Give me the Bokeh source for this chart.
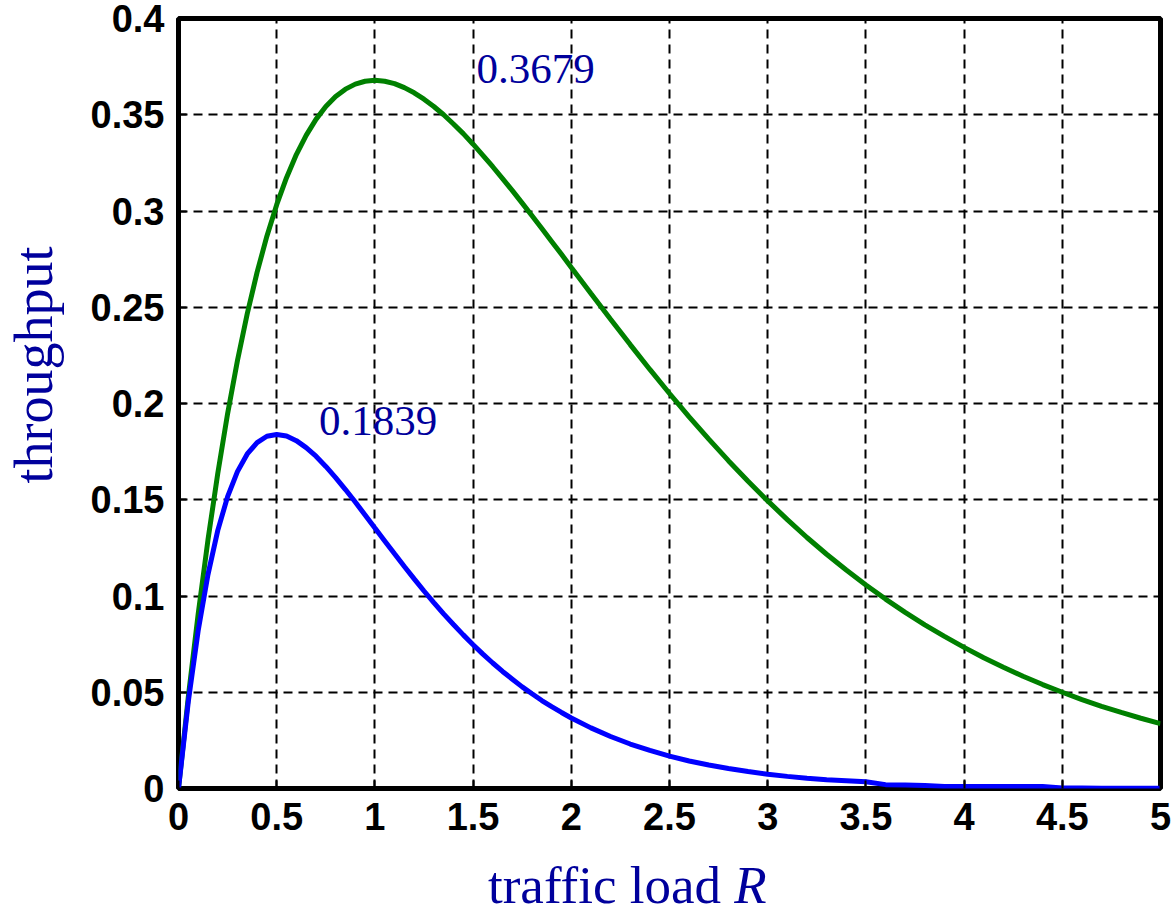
from bokeh.plotting import figure
from bokeh.models import Range1d, Label, FixedTicker, Title, Div
from bokeh.layouts import column
from bokeh.embed import file_html
from bokeh.resources import INLINE

# traffic load R (sample positions)
load = [round(0.05 * i, 2) for i in range(41)] + [round(2 + 0.1 * i, 1) for i in range(1, 31)]

# slotted (green) throughput
slotted = [0.0, 0.0476, 0.0905, 0.1291, 0.1637, 0.1947, 0.2222, 0.2466, 0.2681, 0.2869,
           0.3033, 0.3173, 0.3293, 0.3393, 0.3476, 0.3543, 0.3595, 0.3633, 0.3659, 0.3674,
           0.3679, 0.3674, 0.3662, 0.3641, 0.3614, 0.3581, 0.3543, 0.3500, 0.3452, 0.3402,
           0.3347, 0.3289, 0.3230, 0.3168, 0.3106, 0.3041, 0.2975, 0.2909, 0.2842, 0.2775,
           0.2707,
           0.2572, 0.2438, 0.2306, 0.2177, 0.2052, 0.1931, 0.1815, 0.1703, 0.1596,
           0.1494, 0.1397, 0.1304, 0.1217, 0.1135, 0.1057, 0.0984, 0.0915, 0.0850, 0.0790,
           0.0733, 0.0679, 0.0630, 0.0583, 0.0540, 0.0500, 0.0462, 0.0427, 0.0395, 0.0365,
           0.0337]

# pure (blue) throughput
pure = [0.0, 0.0452, 0.0819, 0.1111, 0.1341, 0.1516, 0.1646, 0.1738, 0.1797, 0.1830,
        0.1839, 0.1831, 0.1807, 0.1771, 0.1726, 0.1673, 0.1615, 0.1553, 0.1488, 0.1421,
        0.1353, 0.1286, 0.1219, 0.1153, 0.1089, 0.1026, 0.0966, 0.0907, 0.0852, 0.0798,
        0.0747, 0.0698, 0.0652, 0.0608, 0.0568, 0.0528, 0.0492, 0.0457, 0.0425, 0.0395,
        0.0366,
        0.0315, 0.0270, 0.0231, 0.0198, 0.0168, 0.0143, 0.0122, 0.0104, 0.0088,
        0.0074, 0.0063, 0.0053, 0.0045, 0.0040, 0.0035, 0.0020, 0.0018, 0.0016, 0.0010,
        0.0010, 0.0010, 0.0010, 0.0010, 0.0010, 0.0003, 0.0002, 0.0001, 0.0001, 0.0001,
        0.0001]

x_ticks = [0, 0.5, 1, 1.5, 2, 2.5, 3, 3.5, 4, 4.5, 5]
y_ticks = [0, 0.05, 0.1, 0.15, 0.2, 0.25, 0.3, 0.35, 0.4]
peak_labels = ["0.3679", "0.1839"]

txt_color = "#00009C"

p = figure(width=1172, height=856, output_backend="svg", toolbar_location=None,
           x_range=Range1d(0, 5), y_range=Range1d(0, 0.4),
           min_border_left=178, min_border_right=12, min_border_top=18,
           min_border_bottom=68)

p.outline_line_color = "black"
p.outline_line_width = 5
p.background_fill_color = "white"

for ax in (p.xaxis, p.yaxis):
    ax.axis_line_color = None
    ax.major_tick_in = 8
    ax.major_tick_out = 0
    ax.major_tick_line_width = 2
    ax.major_tick_line_color = "black"
    ax.minor_tick_line_color = None
    ax.major_label_text_font = "Liberation Sans"
    ax.major_label_text_font_style = "bold"
    ax.major_label_text_font_size = "38px"
    ax.major_label_text_color = "black"
    ax.major_label_standoff = 14

# blank spacer label on the y axis, keeps the title clear of the tick labels
p.yaxis.axis_label = "\u00a0"
p.yaxis.axis_label_text_font_size = "8px"
p.yaxis.axis_label_standoff = 10

p.xaxis.ticker = FixedTicker(ticks=x_ticks)
p.yaxis.ticker = FixedTicker(ticks=y_ticks)
p.xaxis.major_label_overrides = {t: ("%g" % t) for t in x_ticks}
p.yaxis.major_label_overrides = {t: ("%g" % t) for t in y_ticks}

for g in (p.xgrid, p.ygrid):
    g.grid_line_color = "black"
    g.grid_line_width = 2
    g.grid_line_dash = "9 6"
    g.grid_line_alpha = 1.0

p.line(load, slotted, line_color="#008000", line_width=5)
p.line(load, pure, line_color="#0000FF", line_width=5)

p.add_layout(Label(x=1.517, y=0.374, text=peak_labels[0], text_font="Liberation Serif",
                   text_font_size="43px", text_color=txt_color, text_baseline="alphabetic",
                   text_align="left"))
p.add_layout(Label(x=0.716, y=0.1907, text=peak_labels[1], text_font="Liberation Serif",
                   text_font_size="43px", text_color=txt_color, text_baseline="alphabetic",
                   text_align="left"))

# y axis title
p.add_layout(Title(text="throughput", text_font="Liberation Serif", text_font_size="54px",
                   text_font_style="normal", text_color=txt_color, align="left",
                   vertical_align="top", offset=305, standoff=0), "left")

# x axis title (real text, italic R)
xlab = Div(text='traffic load <i>R</i>', width=440, height=59,
           margin=(0, 0, 0, 488),
           styles={"font-family": "Liberation Serif", "font-size": "53px",
                   "color": txt_color, "line-height": "59px", "white-space": "nowrap"})

layout = column(p, xlab, spacing=0)

open("out.html", "w").write(file_html(layout, INLINE))
